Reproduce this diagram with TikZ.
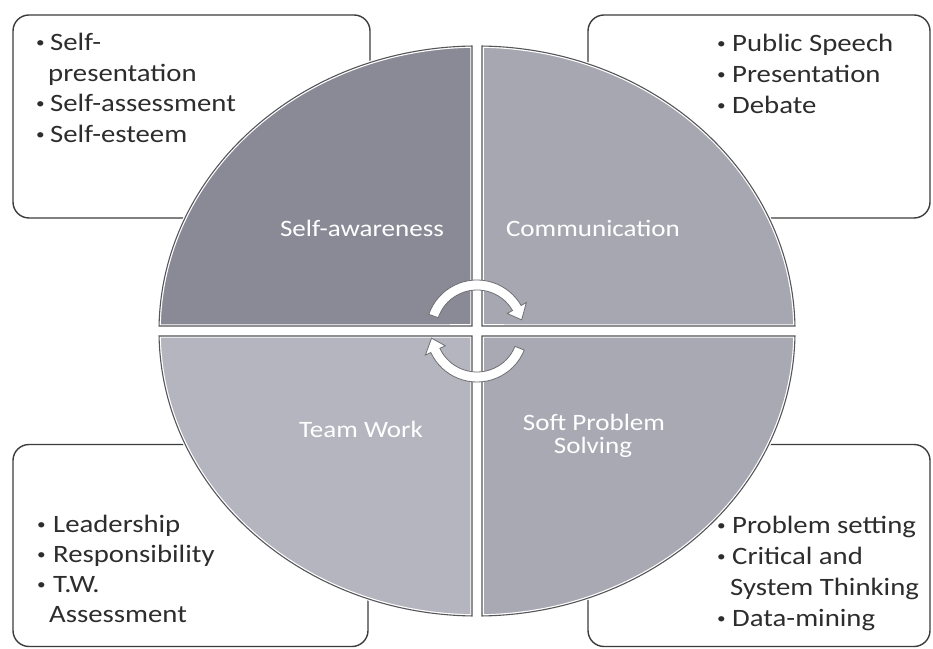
\documentclass[tikz,border=0pt]{standalone}
\usepackage{fontspec}
\setmainfont{Carlito}
\newfontfamily\bx[FakeStretch=1.15]{Carlito}
\newcommand{\bul}[1]{\makebox[#1][l]{\raisebox{3pt}{\fontsize{15}{15}\selectfont •}}}
\definecolor{boxline}{RGB}{60,60,60}
\definecolor{txt}{RGB}{45,45,45}
\definecolor{qline}{RGB}{85,85,90}
\definecolor{qa}{RGB}{137,138,150}
\definecolor{qb}{RGB}{167,167,178}
\definecolor{qc}{RGB}{181,181,192}
\definecolor{qd}{RGB}{169,169,180}
\definecolor{arrline}{RGB}{110,110,115}
\begin{document}
\begin{tikzpicture}[x=1pt,y=1pt,
  box/.style={draw=boxline, line width=1.4pt, fill=white, rounded corners=16pt, inner sep=0pt},
  itm/.style={anchor=base west, inner sep=0pt, text=txt, font=\bx\fontsize{25}{30}\selectfont},
  lbl/.style={anchor=base, inner sep=0pt, text=white, font=\bx\fontsize{23.5}{28}\selectfont},
  quad/.style={fill=#1, draw=white, line width=3.5pt, postaction={draw=qline, line width=1.1pt}},
  arr/.style={fill=white, draw=arrline, line width=0.8pt}]
\useasboundingbox (0,0) rectangle (933,648);
% boxes
\node[box, minimum width=357pt, minimum height=203pt] (tlbox) at (191.5,531.5) {};
\node[box, minimum width=342pt, minimum height=203pt] (trbox) at (759,531.5) {};
\node[box, minimum width=355pt, minimum height=202pt] (blbox) at (190.5,102.5) {};
\node[box, minimum width=342pt, minimum height=202pt] (brbox) at (759,102.5) {};
% quadrants
\begin{scope}[shift={(477,317)}]
\path[quad=qa] (-5,5) -- (90.9:318 and 285) arc[start angle=90.9,end angle=179,x radius=318,y radius=285] -- cycle;
\path[quad=qb] (5,5) -- (1:318 and 285) arc[start angle=1,end angle=89.1,x radius=318,y radius=285] -- cycle;
\path[quad=qc] (-5,-5) -- (181:318 and 285) arc[start angle=181,end angle=269.1,x radius=318,y radius=285] -- cycle;
\path[quad=qd] (5,-5) -- (270.9:318 and 285) arc[start angle=270.9,end angle=359,x radius=318,y radius=285] -- cycle;
% cycle arrows
\draw[arr] (161:51) arc[start angle=161,end angle=30,radius=51] -- (30:57) -- (14:46) -- (30:35) -- (30:41) arc[start angle=30,end angle=161,radius=41] -- cycle;
\draw[arr] (-22:51) arc[start angle=-22,end angle=-155,radius=51] -- (-155:57) -- (-171:46) -- (-155:35) -- (-155:41) arc[start angle=-155,end angle=-22,radius=41] -- cycle;
\end{scope}
% quadrant labels
\node[lbl] (l1) at (362,411) {Self-awareness};
\node[lbl] (l2) at (593,411) {Communication};
\node[lbl] (l3) at (361,211) {Team Work};
\node[lbl] (l4a) at (594,218) {Soft Problem};
\node[lbl] (l4b) at (593,195) {Solving};
% top-left items
\node[itm] (a1) at (36,597) {\bul{14pt}Self-};
\node[itm] (a1b) at (48,566) {presentation};
\node[itm] (a2) at (36,536) {\bul{14pt}Self-assessment};
\node[itm] (a3) at (36,505) {\bul{14pt}Self-esteem};
% top-right items
\node[itm] (b1) at (717,596) {\bul{15pt}Public Speech};
\node[itm] (b2) at (717,565) {\bul{15pt}Presentation};
\node[itm] (b3) at (717,534) {\bul{15pt}Debate};
% bottom-left items
\node[itm] (c1) at (37,116) {\bul{16pt}Leadership};
\node[itm] (c2) at (37,86) {\bul{16pt}Responsibility};
\node[itm] (c3) at (37,56) {\bul{16pt}T.W.};
\node[itm] (c3b) at (49,26) {Assessment};
% bottom-right items
\node[itm] (d1) at (717,115) {\bul{15pt}Problem setting};
\node[itm] (d2) at (717,84) {\bul{15pt}Critical and};
\node[itm] (d2b) at (730,53) {System Thinking};
\node[itm] (d3) at (717,22) {\bul{15pt}Data-mining};
\end{tikzpicture}
\end{document}
